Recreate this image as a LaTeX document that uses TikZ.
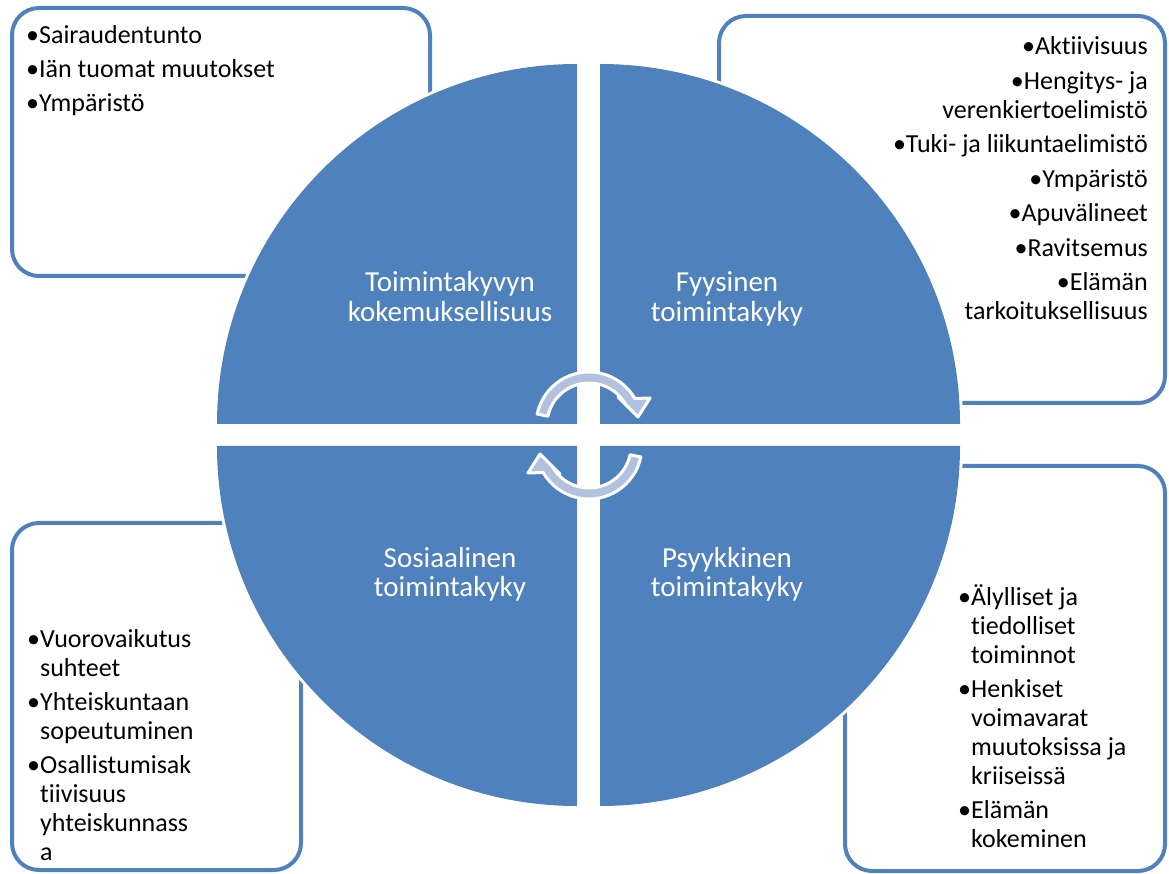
\documentclass[tikz,border=0pt]{standalone}
\usepackage{fontspec}
\setmainfont{Carlito}[Ligatures=NoCommon]
\definecolor{qblue}{HTML}{4F81BD}
\definecolor{arrowblue}{HTML}{B2C1DD}
\newcommand\bul{•}
\newcommand\ind{\hphantom{•}}
\begin{document}
\begin{tikzpicture}[x=1pt,y=1pt,
  boxstyle/.style={draw=qblue, line width=4pt, rounded corners=27pt, fill=white, inner sep=0pt},
  quadfill/.style={fill=qblue},
  halo/.style={draw=white, line width=6pt},
  qlabel/.style={text=white, align=center, font=\fontsize{29}{30}\selectfont, inner sep=0pt, anchor=base},
  bullets/.style={align=left, font=\fontsize{26}{29}\selectfont, inner sep=0pt, anchor=base west},
  rbullets/.style={align=right, font=\fontsize{26}{29}\selectfont, inner sep=0pt, anchor=base east},
  cyc/.style={fill=arrowblue, draw=white, line width=3pt, line join=round}]
\useasboundingbox (0,0) rectangle (1169,873);

% boxes
\node[boxstyle, minimum width=418pt, minimum height=268pt] (tlbox) at (221,731) {};
\node[boxstyle, minimum width=446pt, minimum height=387pt] (trbox) at (942,663.5) {};
\node[boxstyle, minimum width=289pt, minimum height=347pt] (blbox) at (156.5,176.5) {};
\node[boxstyle, minimum width=320pt, minimum height=405pt] (brbox) at (1005,204.5) {};

% quadrants: white halo then fill
\path[halo] (577,449) -- ++(-360,0) arc[start angle=180, end angle=90, radius=360] -- cycle;
\path[halo] (600,449) -- ++(0,360) arc[start angle=90, end angle=0, radius=360] -- cycle;
\path[halo] (577,427) -- ++(-360,0) arc[start angle=180, end angle=270, radius=360] -- cycle;
\path[halo] (600,427) -- ++(360,0) arc[start angle=0, end angle=-90, radius=360] -- cycle;
\fill[quadfill] (577,449) -- ++(-360,0) arc[start angle=180, end angle=90, radius=360] -- cycle;
\fill[quadfill] (600,449) -- ++(0,360) arc[start angle=90, end angle=0, radius=360] -- cycle;
\fill[quadfill] (577,427) -- ++(-360,0) arc[start angle=180, end angle=270, radius=360] -- cycle;
\fill[quadfill] (600,427) -- ++(360,0) arc[start angle=0, end angle=-90, radius=360] -- cycle;

% quadrant labels (anchored at the baseline of the last line)
\node[qlabel] (lkok) at (450,551) {Toimintakyvyn\\kokemuksellisuus};
\node[qlabel] (lfyy) at (727,551) {Fyysinen\\toimintakyky};
\node[qlabel] (lsos) at (450,276) {Sosiaalinen\\toimintakyky};
\node[qlabel] (lpsy) at (727,276) {Psyykkinen\\toimintakyky};

% box texts (anchored at the baseline of the last line)
\node[bullets] (ttl) at (26,761) {\bul Sairaudentunto\\[5pt]\bul Iän tuomat muutokset\\[5pt]\bul Ympäristö};
\node[rbullets] (ttr) at (1148,553) {\bul Aktiivisuus\\[5.5pt]\bul Hengitys- ja\\verenkiertoelimistö\\[5.5pt]\bul Tuki- ja liikuntaelimistö\\[5.5pt]\bul Ympäristö\\[5.5pt]\bul Apuvälineet\\[5.5pt]\bul Ravitsemus\\[5.5pt]\bul Elämän\\tarkoituksellisuus};
\node[bullets] (tbl) at (27,13) {\bul Vuorovaikutus\\\ind suhteet\\[5pt]\bul Yhteiskuntaan\\\ind sopeutuminen\\[5pt]\bul Osallistumisak\\\ind tiivisuus\\\ind yhteiskunnass\\\ind a};
\node[bullets] (tbr) at (958,26) {\bul Älylliset ja\\\ind tiedolliset\\\ind toiminnot\\[5pt]\bul Henkiset\\\ind voimavarat\\\ind muutoksissa ja\\\ind kriiseissä\\[5pt]\bul Elämän\\\ind kokeminen};

% circular arrows
\path[cyc] ([shift={(168:53)}]589,448) arc[start angle=168, end angle=30, radius=53]
  -- (650,475) -- (638,456) -- (618,476) -- (625.37,469)
  arc[start angle=30, end angle=168, radius=42] -- cycle;
\begin{scope}[rotate around={180:(589,437.5)}]
\path[cyc] ([shift={(168:53)}]589,448) arc[start angle=168, end angle=30, radius=53]
  -- (650,475) -- (638,456) -- (618,476) -- (625.37,469)
  arc[start angle=30, end angle=168, radius=42] -- cycle;
\end{scope}
\end{tikzpicture}
\end{document}
